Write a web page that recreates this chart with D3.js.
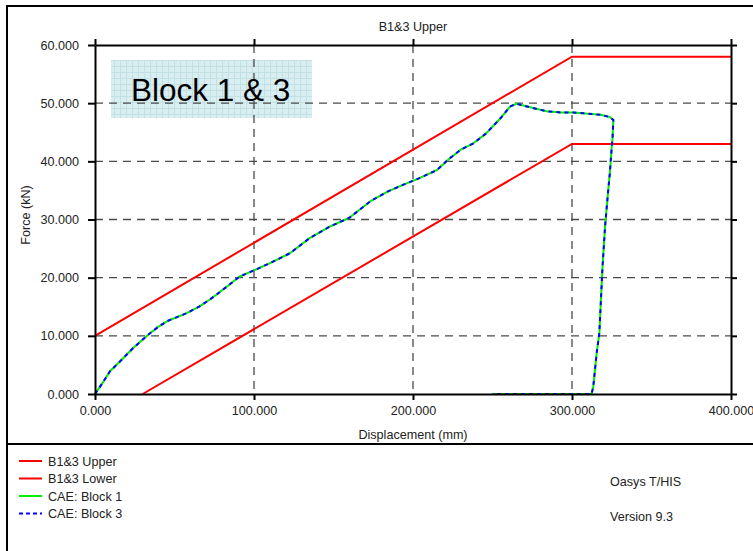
<!DOCTYPE html>
<html>
<head>
<meta charset="utf-8">
<script src="https://cdn.jsdelivr.net/npm/d3@7"></script>
<style>
  html, body { margin: 0; padding: 0; background: #fff; }
  svg { display: block; font-family: Arial, "Liberation Sans", sans-serif; }
</style>
</head>
<body>
<svg id="chart" width="753" height="551"></svg>
<script>
// Axis ticks
const xTicks = [0, 100, 200, 300, 400];
const yTicks = [0, 10, 20, 30, 40, 50, 60];

// Limit curves (displacement mm, force kN)
const upperDisp = [0, 300, 400];
const upperForce = [10, 58, 58];
const lowerDisp = [30, 300, 400];
const lowerForce = [0, 43, 43];

// CAE result, Block 1
const block1Disp = [0, 5, 9.4, 15.7, 24, 33.5, 40, 46, 57.7, 66, 72, 76.5, 84, 91, 99.6, 110, 122.6, 135,
  147.8, 160, 173, 184, 194, 204, 215, 223, 230, 238, 246, 255, 261, 265, 275, 284, 293, 301, 310, 318,
  324, 326, 325.5, 325, 323.8, 322.8, 320.8, 319.2, 317.2, 315.5, 313.4, 312.3, 300, 280, 250];
const block1Force = [0, 2, 3.9, 5.6, 7.9, 10.2, 11.6, 12.6, 13.9, 15.1, 16.2, 17.1, 18.7, 20.2, 21.2, 22.5, 24.2, 26.8,
  28.8, 30.3, 33.1, 34.8, 36, 37.1, 38.5, 40.5, 42, 43.1, 44.8, 47.4, 49.4, 49.9, 49.2, 48.6, 48.4, 48.4, 48.2, 48,
  47.6, 47.1, 44, 42.5, 38, 35.1, 28.8, 21.9, 10.5, 7, 1.3, 0, 0, 0, 0];
// CAE result, Block 3 (coincides with Block 1)
const block3Disp = block1Disp.slice();
const block3Force = block1Force.slice();

const legendLabels = ["B1&3 Upper", "B1&3 Lower", "CAE: Block 1", "CAE: Block 3"];
const footerLabels = ["Oasys T/HIS", "Version 9.3"];

const svg = d3.select("#chart");
const W = 753, H = 551;
const FS = 12.6;
const plot = { left: 95, right: 731, top: 45, bottom: 394 };

const x = d3.scaleLinear().domain([0, 400]).range([plot.left, plot.right]);
const y = d3.scaleLinear().domain([0, 60]).range([plot.bottom, plot.top]);

// Outer frame and legend separator
svg.append("rect").attr("x", 7).attr("y", 6).attr("width", W + 10).attr("height", H + 10)
  .attr("fill", "none").attr("stroke", "#000").attr("stroke-width", 2);
svg.append("line").attr("x1", 7).attr("x2", W).attr("y1", 444).attr("y2", 444)
  .attr("stroke", "#000").attr("stroke-width", 2);

// Annotation box with fine grid fill
const defs = svg.append("defs");
const pat = defs.append("pattern").attr("id", "cells").attr("patternUnits", "userSpaceOnUse")
  .attr("width", 6).attr("height", 6);
pat.append("rect").attr("width", 6).attr("height", 6).attr("fill", "#d9eef0");
pat.append("path").attr("d", "M0 0.5H6M0.5 0V6").attr("stroke", "#c3e1e5").attr("stroke-width", 1);
svg.append("rect").attr("x", 111).attr("y", 60).attr("width", 201).attr("height", 58)
  .attr("fill", "url(#cells)");

// Dashed grid
const grid = svg.append("g").attr("stroke", "#4a4a4a").attr("stroke-width", 1.3)
  .attr("stroke-dasharray", "8,6");
grid.selectAll(".gx").data(xTicks.filter(d => d > 0 && d < 400)).join("line")
  .attr("x1", d => x(d)).attr("x2", d => x(d)).attr("y1", plot.top).attr("y2", plot.bottom);
grid.selectAll(".gy").data(yTicks.filter(d => d > 0 && d < 60)).join("line")
  .attr("y1", d => y(d)).attr("y2", d => y(d)).attr("x1", plot.left).attr("x2", plot.right);

svg.append("text").attr("x", 131).attr("y", 101).attr("font-size", 31.5).attr("fill", "#000")
  .text("Block 1 & 3");

// Series
const line = d3.line().x(d => x(d[0])).y(d => y(d[1]));
const zipPts = (a, b) => a.map((v, i) => [v, b[i]]);
svg.append("path").attr("d", line(zipPts(upperDisp, upperForce)))
  .attr("fill", "none").attr("stroke", "#ff0000").attr("stroke-width", 2);
svg.append("path").attr("d", line(zipPts(lowerDisp, lowerForce)))
  .attr("fill", "none").attr("stroke", "#ff0000").attr("stroke-width", 2);
svg.append("path").attr("d", line(zipPts(block1Disp, block1Force)))
  .attr("fill", "none").attr("stroke", "#00ee00").attr("stroke-width", 2).attr("stroke-linejoin", "round");
svg.append("path").attr("d", line(zipPts(block3Disp, block3Force)))
  .attr("fill", "none").attr("stroke", "#0000ff").attr("stroke-width", 2)
  .attr("stroke-dasharray", "4,4");

// Axes on all four sides, drawn over the series
const tickFmt = d3.format(".3f");
function styleAxis(g) {
  g.select(".domain").attr("stroke", "#000").attr("stroke-width", 2);
  g.selectAll(".tick line").attr("stroke", "#000").attr("stroke-width", 2);
  g.selectAll(".tick text").attr("fill", "#222").attr("font-size", FS)
    .attr("font-family", "Arial, 'Liberation Sans', sans-serif");
}
svg.append("g").attr("transform", `translate(0,${plot.bottom})`)
  .call(d3.axisBottom(x).tickValues(xTicks).tickFormat(tickFmt).tickSize(6).tickSizeOuter(0).tickPadding(6))
  .call(styleAxis);
svg.append("g").attr("transform", `translate(${plot.left},0)`)
  .call(d3.axisLeft(y).tickValues(yTicks).tickFormat(tickFmt).tickSize(7).tickSizeOuter(0).tickPadding(9))
  .call(styleAxis);
svg.append("g").attr("transform", `translate(0,${plot.top})`)
  .call(d3.axisTop(x).tickValues(xTicks).tickFormat("").tickSize(6).tickSizeOuter(0))
  .call(styleAxis);
svg.append("g").attr("transform", `translate(${plot.right},0)`)
  .call(d3.axisRight(y).tickValues(yTicks).tickFormat("").tickSize(6).tickSizeOuter(0))
  .call(styleAxis);

// Titles
svg.append("text").attr("x", (plot.left + plot.right) / 2).attr("y", 31).attr("text-anchor", "middle")
  .attr("font-size", FS).attr("fill", "#222").text("B1&3 Upper");
svg.append("text").attr("x", (plot.left + plot.right) / 2).attr("y", 439).attr("text-anchor", "middle")
  .attr("font-size", FS).attr("fill", "#222").text("Displacement (mm)");
svg.append("text").attr("transform", `translate(30,215) rotate(-90)`)
  .attr("text-anchor", "middle").attr("font-size", FS).attr("fill", "#222").text("Force (kN)");

// Legend
const legendStyles = [
  { color: "#ff0000", dash: null },
  { color: "#ff0000", dash: null },
  { color: "#00ee00", dash: null },
  { color: "#0000ff", dash: "4,3" }
];
const lg = svg.append("g");
legendLabels.forEach((lab, i) => {
  const yy = 461 + i * 17.5;
  const s = legendStyles[i];
  lg.append("line").attr("x1", 19).attr("x2", 42).attr("y1", yy).attr("y2", yy)
    .attr("stroke", s.color).attr("stroke-width", 2).attr("stroke-dasharray", s.dash);
  lg.append("text").attr("x", 48).attr("y", yy + 4.5).attr("font-size", FS).attr("fill", "#222").text(lab);
});
footerLabels.forEach((lab, i) => {
  svg.append("text").attr("x", 610).attr("y", 485.5 + i * 35).attr("font-size", FS).attr("fill", "#222").text(lab);
});
</script>
</body>
</html>
